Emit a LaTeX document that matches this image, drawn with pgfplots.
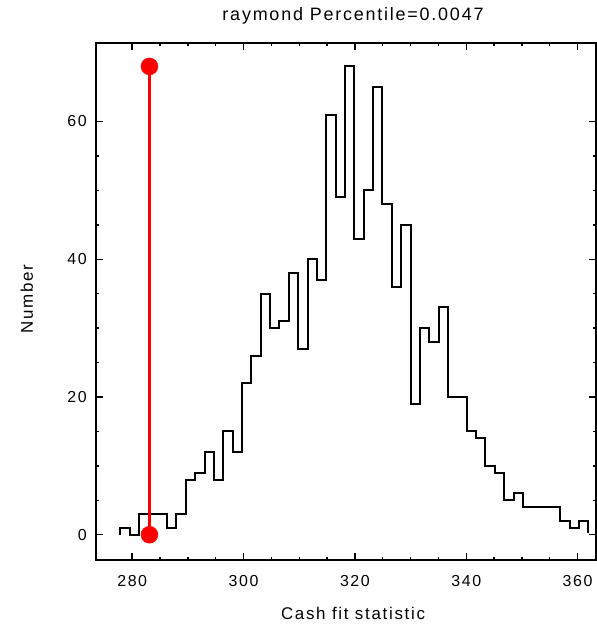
\documentclass[border=0pt]{standalone}
\usepackage{fontspec}
\setmainfont{Liberation Sans}[LetterSpace=10]
\usepackage{pgfplots}
\pgfplotsset{compat=1.18}
\begin{document}
\begin{tikzpicture}
\path[use as bounding box] (-96bp,-65bp) rectangle (501bp,560bp);
\begin{axis}[
  at={(0,0)}, anchor=south west,
  scale only axis, width=500bp, height=517bp,
  xmin=273.5, xmax=363.3, ymin=-3.67, ymax=71.4,
  xtick={280,300,...,360}, ytick={0,20,40,60},
  minor x tick num=3, minor y tick num=3,
  tick align=inside, major tick length=7bp, minor tick length=3.5bp,
  axis line style={line width=1.6bp, black},
  every tick/.style={line width=1.4bp, black},
  /pgf/number format/assume math mode=true,
  /pgf/number format/1000 sep={},
  xticklabel style={font=\fontsize{16}{18}\selectfont, anchor=base, inner sep=0pt, yshift=-26.7bp},
  yticklabel style={font=\fontsize{16}{18}\selectfont, anchor=east, inner sep=0pt, xshift=-9bp},
  title={raymond Percentile=0.0047},
  title style={font=\fontsize{18}{20}\selectfont, at={(axis description cs:0.514,1)}, anchor=base, inner sep=0pt, yshift=17bp},
  xlabel={Cash fit statistic},
  xlabel style={font=\fontsize{17}{19}\selectfont, at={(axis description cs:0.514,0)}, anchor=base, inner sep=0pt, yshift=-59bp},
  ylabel={Number},
  ylabel style={font=\fontsize{17}{19}\selectfont, at={([xshift=-63bp]axis description cs:0,0.505)}, anchor=base, inner sep=0pt},
  clip=false,
]
\addplot[const plot, draw=black, line width=2bp] coordinates {
(277.85,0) (277.85,1) (279.53,0) (281.21,3) (282.90,3) (284.58,3)
(286.26,1) (287.94,3) (289.62,8) (291.31,9) (292.99,12) (294.67,8)
(296.35,15) (298.03,12) (299.72,22) (301.40,26) (303.08,35) (304.76,30)
(306.44,31) (308.13,38) (309.81,27) (311.49,40) (313.17,37) (314.85,61)
(316.54,49) (318.22,68) (319.90,43) (321.58,50) (323.26,65) (324.95,48)
(326.63,36) (328.31,45) (329.99,19) (331.67,30) (333.36,28) (335.04,33)
(336.72,20) (338.40,20) (340.08,15) (341.77,14) (343.45,10) (345.13,9)
(346.81,5) (348.49,6) (350.18,4) (351.86,4) (353.54,4) (355.22,4)
(356.90,2) (358.59,1) (360.27,2) (361.95,2) (361.95,0.3)
};
\addplot[draw=red, line width=2.2bp, no marks] coordinates {
(283.1,0) (283.1,68)
};
\addplot[only marks, mark=*, mark size=8.5bp, color=red, mark options={fill=red, draw=red}] coordinates {
(283.1,0) (283.1,68)
};
\end{axis}
\end{tikzpicture}
\end{document}
